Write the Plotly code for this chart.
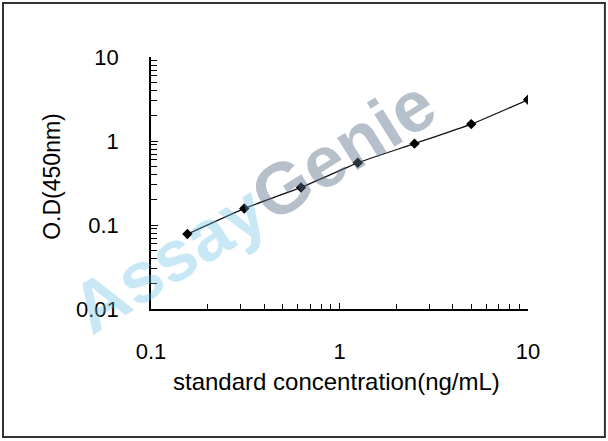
import plotly.graph_objects as go

# standard curve data
concentration = [0.156, 0.3125, 0.625, 1.25, 2.5, 5, 10]
od_450 = [0.078, 0.157, 0.28, 0.55, 0.93, 1.59, 3.1]

x_ticks = [0.1, 1, 10]
x_tick_labels = ["0.1", "1", "10"]
y_ticks = [0.01, 0.1, 1, 10]
y_tick_labels = ["0.01", "0.1", "1", "10"]

x_title = "standard concentration(ng/mL)"
y_title = "O.D(450nm)"

# minor ticks 2..9 for every decade
def minor_vals(first_decade, last_decade):
    vals = []
    for d in range(first_decade, last_decade):
        for m in range(2, 10):
            vals.append(m * 10 ** d)
    return vals

font = "Liberation Sans, Arial, sans-serif"

fig = go.Figure()

fig.add_trace(go.Scatter(
    x=concentration, y=od_450,
    mode="lines+markers",
    line=dict(color="#111111", width=1.3, shape="spline", smoothing=0.5),
    marker=dict(symbol="diamond", size=8, color="#000000"),
    showlegend=False,
    hoverinfo="x+y"
))

axis_common = dict(
    type="log",
    showline=True, linecolor="#000000", linewidth=1.5,
    showgrid=False, zeroline=False,
    ticks="inside", tickcolor="#000000", tickwidth=1.2,
    tickfont=dict(family=font, size=22, color="#000000"),
    tickmode="array",
    mirror=False,
)

fig.update_xaxes(
    **axis_common,
    range=[-1, 1],
    tickvals=x_ticks, ticktext=x_tick_labels,
    ticklen=6, ticklabelstandoff=22,
    minor=dict(ticks="inside", ticklen=5, tickcolor="#000000", tickwidth=1.2,
               tickmode="array", tickvals=minor_vals(-1, 1)),
)
fig.update_yaxes(
    **axis_common,
    range=[-2, 1],
    tickvals=y_ticks, ticktext=y_tick_labels,
    ticklen=7, ticklabelstandoff=26,
    minor=dict(ticks="inside", ticklen=6, tickcolor="#000000", tickwidth=1.2,
               tickmode="array", tickvals=minor_vals(-2, 1)),
)

# axis titles and watermark
fig.add_annotation(text=x_title, xref="paper", yref="paper", x=0.493, y=-0.286,
                   showarrow=False, xanchor="center", yanchor="middle",
                   font=dict(family=font, size=24, color="#000000"))
fig.add_annotation(text=y_title, xref="paper", yref="paper", x=-0.263, y=0.528,
                   textangle=-90, showarrow=False, xanchor="center", yanchor="middle",
                   font=dict(family=font, size=23, color="#000000"))
fig.add_annotation(
    text="<b><span style='color:rgba(100,190,230,0.35)'>Assay</span>"
         "<span style='color:rgba(90,115,140,0.45)'>Genie</span></b>",
    xref="paper", yref="paper", x=0.27, y=0.41, textangle=-32,
    showarrow=False, xanchor="center", yanchor="middle",
    font=dict(family=font, size=72)
)

# outer frame
fig.add_shape(type="rect", xref="paper", yref="paper",
              x0=-0.3926, x1=1.204, y0=-0.508, y1=1.214,
              line=dict(color="#333333", width=2))

fig.update_layout(
    width=608, height=441,
    margin=dict(l=151, r=80, t=57, b=132),
    paper_bgcolor="white", plot_bgcolor="white",
)

# drop the default page margin so the figure sits at the window corner
fig.write_html("out.html", config={"displayModeBar": False},
               post_script="document.body.style.margin='0';"
                           "document.body.style.overflow='hidden';")
